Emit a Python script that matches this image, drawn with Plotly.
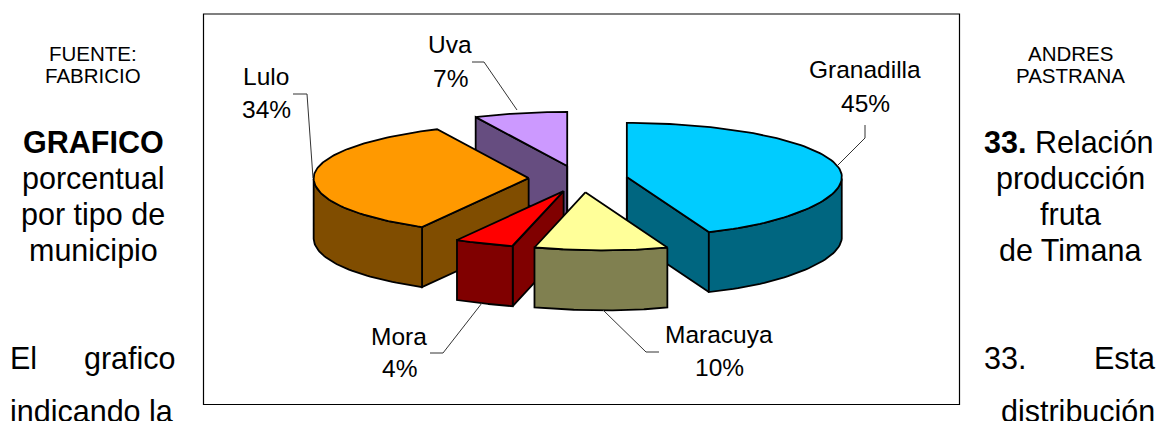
import numpy as np
import plotly.graph_objects as go

categories = ["Granadilla", "Maracuya", "Mora", "Lulo", "Uva"]
values = [45, 10, 4, 34, 7]
percent_labels = ["45%", "10%", "4%", "34%", "7%"]
top_colors = ["#00CCFF", "#FFFF99", "#FF0000", "#FF9900", "#CC99FF"]
side_colors = ["#006680", "#808050", "#800000", "#804D00", "#664D80"]
draw_order = [4, 3, 0, 2, 1]

CX, CY, RX, RY_BACK, RY_FRONT, SKEW, APEX_SKEW, EXPLODE, DEPTH = 578, 179, 215, 54, 58, 20, 32, 0.23, 60
LINE = dict(color="black", width=1.8)
THIN = dict(color="#333333", width=1)

fig = go.Figure()
fig.add_shape(type="rect", x0=203.5, y0=14, x1=959.5, y1=404.5, line=dict(color="black", width=1.2),
              fillcolor="white", layer="below")

def poly(x, y, color):
    fig.add_trace(go.Scatter(x=np.r_[x, x[0]], y=np.r_[y, y[0]], mode="lines", fill="toself",
                             fillcolor=color, line=LINE, hoverinfo="skip", showlegend=False))

edges = np.cumsum([0] + values) / sum(values) * 2 * np.pi
for i in draw_order:
    a0, a1 = edges[i], edges[i + 1]
    mid = (a0 + a1) / 2
    ax = CX + EXPLODE * (RX * np.sin(mid) + APEX_SKEW * max(-np.cos(mid), 0))
    ay = CY - EXPLODE * 58 * np.cos(mid)
    def rim(t):
        t = np.asarray(t, dtype=float)
        c = np.cos(t)
        return (ax + RX * np.sin(t) + SKEW * np.maximum(-c, 0) ** 5,
                ay - np.where(c > 0, RY_BACK, RY_FRONT) * c)
    t = np.linspace(a0, a1, 100)
    x_top, y_top = rim(t)
    # cut faces turned to the viewer
    for ang, visible in ((a0, np.sin(a0) < -1e-6), (a1, np.sin(a1) > 1e-6)):
        if visible:
            ex, ey = rim(ang)
            poly(np.array([ax, ex, ex, ax]), np.array([ay, ey, ey + DEPTH, ay + DEPTH]), side_colors[i])
    if abs(np.sin(a0)) < 1e-6 or abs(np.sin(a1)) < 1e-6:
        fig.add_trace(go.Scatter(x=[ax, ax], y=[ay, ay + DEPTH], mode="lines", line=LINE,
                                 hoverinfo="skip", showlegend=False))
    # outer wall (front half only)
    front = np.cos(t) < 0
    if front.any():
        xf, yf = x_top[front], y_top[front]
        poly(np.r_[xf, xf[::-1]], np.r_[yf, yf[::-1] + DEPTH], side_colors[i])
    # top
    poly(np.r_[ax, x_top], np.r_[ay, y_top], top_colors[i])

# label leaders
leaders = [
    [(837, 166), (865, 138), (865, 125)],
    [(603, 310), (646, 352), (659, 352)],
    [(482, 303), (443, 353), (430, 353)],
    [(313, 178), (307, 94), (293, 94)],
    [(517, 110), (484, 62), (472, 62)],
]
for pts in leaders:
    fig.add_trace(go.Scatter(x=[p[0] for p in pts], y=[p[1] for p in pts], mode="lines",
                             line=THIN, hoverinfo="skip", showlegend=False))

def text(x, y, s, size=21, anchor="left", bold=False):
    fig.add_annotation(x=x, y=y, text=f"<b>{s}</b>" if bold else s, showarrow=False, xanchor=anchor,
                       yanchor="middle", font=dict(family="Liberation Sans", size=size, color="black"))

label_pos = [(865, 69, 103), (719, 334, 367), (399, 336, 368), (266, 76, 109), (450, 44, 78)]
for name, pct, (x, y1, y2) in zip(categories, percent_labels, label_pos):
    text(x, y1, name, 24.5, "center")
    text(x, y2, pct, 24.5, "center")

for x, y, s, size, anchor, bold in [
    (93, 53, "FUENTE:", 20.5, "center", False), (93, 75, "FABRICIO", 20.5, "center", False),
    (1070, 53, "ANDRES", 20.5, "center", False), (1070, 75, "PASTRANA", 20.5, "center", False),
    (93, 142, "GRAFICO", 30.5, "center", True), (93, 178, "porcentual", 30.5, "center", False),
    (93, 214, "por tipo de", 30.5, "center", False), (93, 250, "municipio", 30.5, "center", False),
    (982, 142, "<b>33.</b> Relación", 30.5, "left", False), (1070, 178, "producción", 30.5, "center", False),
    (1070, 214, "fruta", 30.5, "center", False), (1070, 250, "de Timana", 30.5, "center", False),
    (8, 358, "El", 30.5, "left", False), (82, 358, "grafico", 30.5, "left", False),
    (982, 358, "33.", 30.5, "left", False), (1157, 358, "Esta", 30.5, "right", False),
    (8, 411, "indicando la", 30.5, "left", False), (1157, 411, "distribución", 30.5, "right", False),
]:
    text(x, y, s, size, anchor, bold)

fig.update_layout(width=1160, height=421, margin=dict(l=0, r=0, t=0, b=0), plot_bgcolor="white",
                  paper_bgcolor="white", showlegend=False)
fig.update_xaxes(range=[0, 1160], visible=False)
fig.update_yaxes(range=[421, 0], visible=False)
fig.write_html("out.html", config=dict(displayModeBar=False),
               post_script="document.body.style.margin='0';document.documentElement.style.overflow='hidden';")
